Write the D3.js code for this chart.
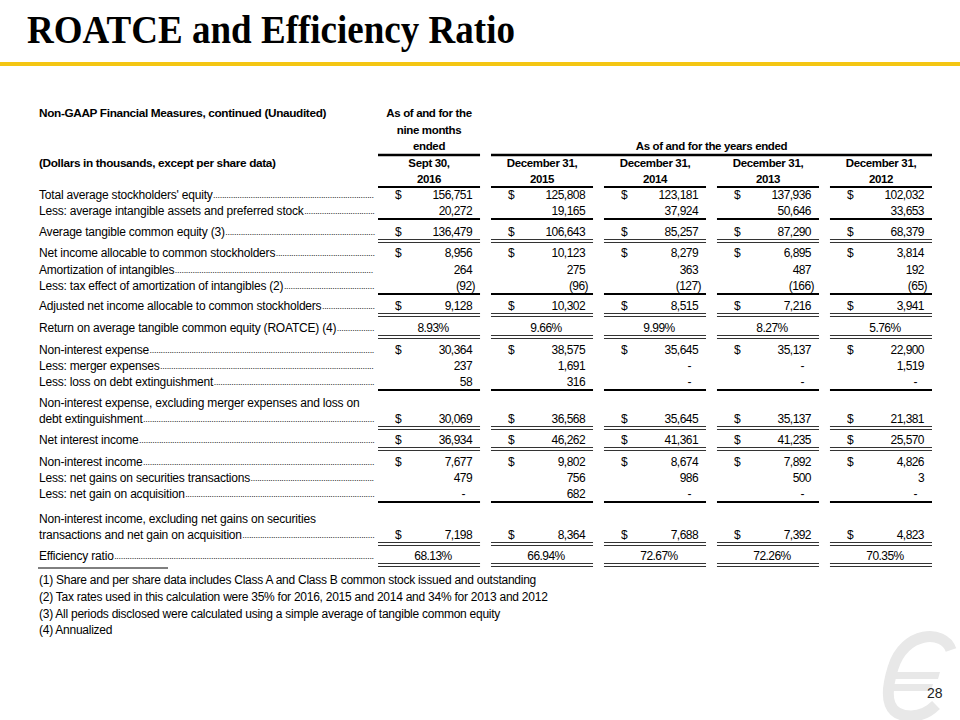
<!DOCTYPE html>
<html>
<head>
<meta charset="utf-8">
<script src="https://cdn.jsdelivr.net/npm/d3@7"></script>
<style>
  body { margin: 0; background: #fff; }
  text { font-family: "Liberation Sans", Arial, sans-serif; fill: #000; }
</style>
</head>
<body>
<script>
// Table data

var periodTop = ["Sept 30,", "December 31,", "December 31,", "December 31,", "December 31,"];
var periodYear = ["2016", "2015", "2014", "2013", "2012"];

var totalEquity      = [156751, 125808, 123181, 137936, 102032];
var intangibles      = [20272, 19165, 37924, 50646, 33653];
var tangibleEquity   = [136479, 106643, 85257, 87290, 68379];
var netIncome        = [8956, 10123, 8279, 6895, 3814];
var amortization     = [264, 275, 363, 487, 192];
var taxEffect        = [-92, -96, -127, -166, -65];
var adjNetIncome     = [9128, 10302, 8515, 7216, 3941];
var roatce           = [8.93, 9.66, 9.99, 8.27, 5.76];
var nonIntExpense    = [30364, 38575, 35645, 35137, 22900];
var mergerExpenses   = [237, 1691, 0, 0, 1519];
var debtLoss         = [58, 316, 0, 0, 0];
var adjNonIntExpense = [30069, 36568, 35645, 35137, 21381];
var netIntIncome     = [36934, 46262, 41361, 41235, 25570];
var nonIntIncome     = [7677, 9802, 8674, 7892, 4826];
var securityGains    = [479, 756, 986, 500, 3];
var acquisitionGain  = [0, 682, 0, 0, 0];
var adjNonIntIncome  = [7198, 8364, 7688, 7392, 4823];
var efficiency       = [68.13, 66.94, 72.67, 72.26, 70.35];

var footnotes = [
  "(1) Share and per share data includes Class A and Class B common stock issued and outstanding",
  "(2) Tax rates used in this calculation were 35% for 2016, 2015 and 2014 and 34% for 2013 and 2012",
  "(3) All periods disclosed were calculated using a simple average of tangible common equity",
  "(4) Annualized"
];

// rows: label lines, values, whether "$" shown, percent format, rule drawn below
var rows = [
  {label: ["Total average stockholders' equity"], values: totalEquity, dollar: true},
  {label: ["Less: average intangible assets and preferred stock"], values: intangibles, rule: "single"},
  {label: ["Average tangible common equity (3)"], values: tangibleEquity, dollar: true, rule: "double"},
  {label: ["Net income allocable to common stockholders "], values: netIncome, dollar: true},
  {label: ["Amortization of intangibles"], values: amortization},
  {label: ["Less: tax effect of amortization of intangibles (2)"], values: taxEffect, rule: "single"},
  {label: ["Adjusted net income allocable to common stockholders"], values: adjNetIncome, dollar: true, rule: "double"},
  {label: ["Return on average tangible common equity (ROATCE) (4)"], values: roatce, pct: true, rule: "double"},
  {label: ["Non-interest expense"], values: nonIntExpense, dollar: true},
  {label: ["Less: merger expenses"], values: mergerExpenses},
  {label: ["Less: loss on debt extinguishment"], values: debtLoss, rule: "single"},
  {label: ["Non-interest expense, excluding merger expenses and loss on", "debt extinguishment"], values: adjNonIntExpense, dollar: true, rule: "double"},
  {label: ["Net interest income"], values: netIntIncome, dollar: true, rule: "double"},
  {label: ["Non-interest income"], values: nonIntIncome, dollar: true},
  {label: ["Less: net gains on securities transactions"], values: securityGains},
  {label: ["Less: net gain on acquisition"], values: acquisitionGain, rule: "single"},
  {label: ["Non-interest income, excluding net gains on securities", "transactions and net gain on acquisition"], values: adjNonIntIncome, dollar: true, rule: "double"},
  {label: ["Efficiency ratio"], values: efficiency, pct: true, rule: "double"}
];

// layout: text centre of each row's first line
var rowY = [195, 211, 232, 253, 270, 286, 306, 328, 350, 366, 382, 403, 440, 462, 478, 494, 519, 556];
var lineStep = 16;

var width = 960, height = 720;
var labelX = 39, leaderEnd = 375;

var svg = d3.select("body").append("svg")
    .attr("width", width)
    .attr("height", height);

// Title and rule

svg.append("text")
    .attr("x", 27)
    .attr("y", 43)
    .attr("textLength", 488)
    .attr("lengthAdjust", "spacingAndGlyphs")
    .style("font-family", "'Liberation Serif', 'Times New Roman', serif")
    .style("font-weight", "bold")
    .style("font-size", "39px")
    .text("ROATCE and Efficiency Ratio");

svg.append("rect")
    .attr("x", 0).attr("y", 62)
    .attr("width", width).attr("height", 4)
    .attr("fill", "#f4c613");

// Logo (slanted e with two bars) and page number

var logo = svg.append("g").attr("fill", "#e8e8e8");

logo.append("path")
    .attr("d", "M951,650 C944,629 904,631 893,668 C883,700 889,716 911,716 C921,716 929,712 936,705")
    .attr("fill", "none")
    .attr("stroke", "#e8e8e8")
    .attr("stroke-width", 11);

logo.append("path")
    .attr("d", "M889,672 L940,672 L938,679 L887,679 Z M885,684 L933,684 L931,691 L883,691 Z");

svg.append("text")
    .attr("x", 927)
    .attr("y", 698)
    .style("font-size", "14px")
    .style("fill", "#222")
    .text("28");

// Columns

var x = d3.scaleBand()
    .domain(periodYear)
    .range([378, 932])
    .paddingInner(0.097)
    .paddingOuter(0);

var bw = x.bandwidth();

var fmtNum = d3.format(",");
var fmtVal = function(v, pct) {
  if (pct) return v.toFixed(2) + "%";
  if (v === 0) return "-";
  if (v < 0) return "(" + fmtNum(-v) + ")";
  return fmtNum(v);
};

var table = svg.append("g").attr("class", "table");

var boldText = function(t, xPos, yPos, anchor, size) {
  return table.append("text")
      .attr("x", xPos).attr("y", yPos).attr("dy", "0.35em")
      .attr("text-anchor", anchor || "start")
      .style("font-size", (size || 11.5) + "px")
      .style("font-weight", "bold")
      .style("letter-spacing", "-0.35px")
      .text(t);
};

// Header

boldText("Non-GAAP Financial Measures, continued (Unaudited)", labelX, 113, "start", 11.8);
boldText("(Dollars in thousands, except per share data)", labelX, 163, "start", 11.8);

var col1Mid = x(periodYear[0]) + bw / 2;
boldText("As of and for the", col1Mid, 113, "middle");
boldText("nine months", col1Mid, 130, "middle");
boldText("ended", col1Mid, 146, "middle");

var yearsStart = x(periodYear[1]),
    yearsEnd = x(periodYear[4]) + bw;
boldText("As of and for the years ended", (yearsStart + yearsEnd) / 2, 146, "middle");

table.append("line")
    .attr("x1", x(periodYear[0])).attr("x2", x(periodYear[0]) + bw)
    .attr("y1", 155).attr("y2", 155)
    .attr("stroke", "#000").attr("stroke-width", 2.5);
table.append("line")
    .attr("x1", yearsStart).attr("x2", yearsEnd)
    .attr("y1", 155).attr("y2", 155)
    .attr("stroke", "#000").attr("stroke-width", 2.5);

periodYear.forEach(function(p, i) {
  var mid = x(p) + bw / 2;
  boldText(periodTop[i], mid, 163, "middle");
  boldText(p, mid, 179, "middle");
  table.append("line")
      .attr("x1", x(p)).attr("x2", x(p) + bw)
      .attr("y1", 187).attr("y2", 187)
      .attr("stroke", "#000").attr("stroke-width", 2);
});

// Body rows

// width of one leader dot
var probe = table.append("text")
    .style("font-size", "9px")
    .style("letter-spacing", "-0.3px")
    .text("..........");
var dotW = probe.node().getComputedTextLength() / 10;
probe.remove();

rows.forEach(function(r, i) {
  var y0 = rowY[i];
  var lastY = y0 + (r.label.length - 1) * lineStep;

  r.label.forEach(function(l, j) {
    var ly = y0 + j * lineStep;
    var t = table.append("text")
        .attr("x", labelX).attr("y", ly).attr("dy", "0.35em")
        .style("font-size", "12px")
        .style("letter-spacing", "-0.2px")
        .text(l);
    if (j === r.label.length - 1) {
      var start = labelX + t.node().getComputedTextLength() + 0.5;
      var n = Math.max(0, Math.floor((leaderEnd - start) / dotW));
      table.append("text")
          .attr("x", start).attr("y", ly).attr("dy", "0.35em")
          .style("font-size", "9px")
          .style("letter-spacing", "-0.3px")
          .style("fill", "#222")
          .text(new Array(n + 1).join("."));
    }
  });

  r.values.forEach(function(v, k) {
    var cx = x(periodYear[k]);
    if (r.dollar) {
      table.append("text")
          .attr("x", cx + 17).attr("y", lastY).attr("dy", "0.35em")
          .style("font-size", "12px")
          .text("$");
    }
    var tx, anchor = "end";
    if (r.pct) {
      tx = cx + bw / 2 + 4; anchor = "middle";
    } else if (v === 0) {
      tx = cx + bw - 15;
    } else if (v < 0) {
      tx = cx + bw - 5;
    } else {
      tx = cx + bw - 8;
    }
    table.append("text")
        .attr("x", tx).attr("y", lastY).attr("dy", "0.35em")
        .attr("text-anchor", anchor)
        .style("font-size", "12px")
        .style("letter-spacing", "-0.55px")
        .text(fmtVal(v, r.pct));

    if (r.rule === "single") {
      table.append("line")
          .attr("x1", cx).attr("x2", cx + bw)
          .attr("y1", lastY + 8).attr("y2", lastY + 8)
          .attr("stroke", "#000").attr("stroke-width", 2);
    } else if (r.rule === "double") {
      [lastY + 7.5, lastY + 10.5].forEach(function(ry) {
        table.append("line")
            .attr("x1", cx).attr("x2", cx + bw)
            .attr("y1", ry).attr("y2", ry)
            .attr("stroke", "#333").attr("stroke-width", 1.2);
      });
    }
  });
});

// Footnotes

table.append("line")
    .attr("x1", labelX - 1).attr("x2", 168)
    .attr("y1", 568).attr("y2", 568)
    .attr("stroke", "#000").attr("stroke-width", 1);

table.selectAll(".footnote")
    .data(footnotes)
  .enter().append("text")
    .attr("class", "footnote")
    .attr("x", labelX)
    .attr("y", function(d, i) { return 580 + i * 16.7; })
    .attr("dy", "0.35em")
    .style("font-size", "12px")
    .style("letter-spacing", "-0.25px")
    .text(function(d) { return d; });
</script>
</body>
</html>
